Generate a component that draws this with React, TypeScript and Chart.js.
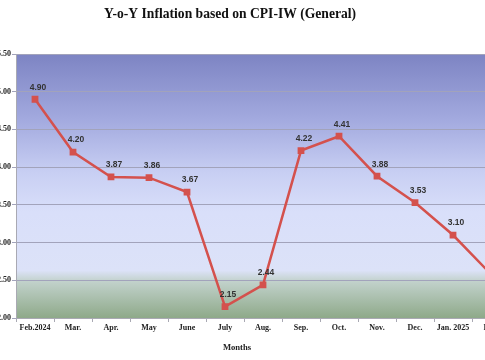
import React, { useEffect, useRef } from "react";
import { Chart, registerables } from "chart.js";

Chart.register(...registerables);

const months = [
  "Feb.2024", "Mar.", "Apr.", "May", "June", "July", "Aug.",
  "Sep.", "Oct.", "Nov.", "Dec.", "Jan. 2025", "Feb.",
];
const inflation = [4.9, 4.2, 3.87, 3.86, 3.67, 2.15, 2.44, 4.22, 4.41, 3.88, 3.53, 3.1, 2.58];
const yMin = 2.0;
const yMax = 5.5;
const yStep = 0.5;
const titleText = "Y-o-Y Inflation based on CPI-IW (General)";
const xAxisTitle = "Months";

const plotBg = {
  id: "plotBg",
  beforeDraw(chart: any) {
    const { ctx, chartArea: a } = chart;
    const g = ctx.createLinearGradient(0, a.top, 0, a.bottom);
    g.addColorStop(0, "#7d84c3");
    g.addColorStop(0.25, "#a3aadf");
    g.addColorStop(0.45, "#c8cff3");
    g.addColorStop(0.6, "#d9dffa");
    g.addColorStop(0.82, "#dce2f8");
    g.addColorStop(0.86, "#c2d2cc");
    g.addColorStop(1, "#8ea989");
    ctx.save();
    ctx.fillStyle = g;
    ctx.fillRect(a.left, a.top, a.right - a.left, a.bottom - a.top);
    ctx.restore();
  },
};

const texts = {
  id: "texts",
  afterDraw(chart: any) {
    const { ctx, chartArea: a } = chart;
    ctx.save();
    ctx.fillStyle = "#111";
    ctx.textAlign = "center";
    ctx.textBaseline = "middle";
    ctx.font = 'bold 13.6px "Liberation Serif", "Times New Roman", serif';
    ctx.fillText(titleText, a.left + 214, 14);
    ctx.font = 'bold 8.6px "Liberation Serif", "Times New Roman", serif';
    ctx.fillStyle = "#222";
    ctx.fillText(xAxisTitle, a.left + 221, 348);
    ctx.restore();
  },
};

const valueLabels = {
  id: "valueLabels",
  afterDatasetsDraw(chart: any) {
    const { ctx } = chart;
    const meta = chart.getDatasetMeta(0);
    const data = chart.data.datasets[0].data as number[];
    ctx.save();
    ctx.font = 'bold 8.5px "Liberation Sans", Arial, sans-serif';
    ctx.fillStyle = "#333";
    ctx.textAlign = "center";
    ctx.textBaseline = "middle";
    meta.data.forEach((p: any, i: number) => {
      ctx.fillText(data[i].toFixed(2), p.x + 3, p.y - 12);
    });
    ctx.restore();
  },
};

export default function App() {
  const ref = useRef<HTMLCanvasElement>(null);
  useEffect(() => {
    if (!ref.current) return;
    const chart = new Chart(ref.current, {
      type: "line",
      data: {
        labels: months,
        datasets: [
          {
            data: inflation,
            borderColor: "#d4514d",
            backgroundColor: "#d4514d",
            borderWidth: 2.5,
            pointStyle: "rect",
            pointRadius: 4.8,
            pointBorderWidth: 0,
            tension: 0,
          },
        ],
      },
      options: {
        animation: false,
        responsive: false,
        layout: { padding: { left: 0, right: 30, top: 54, bottom: 0 }, autoPadding: false },
        plugins: { legend: { display: false }, tooltip: { enabled: false }, title: { display: false } },
        scales: {
          x: {
            type: "category",
            offset: true,
            afterFit(scale: any) { scale.height = 42; },
            border: { display: true, color: "#a9a9b3", width: 1 },
            grid: { offset: true, drawOnChartArea: false, drawTicks: true, tickLength: 4, color: "#a9a9b3" },
            ticks: {
              maxRotation: 0,
              autoSkip: false,
              padding: 1,
              color: "#222",
              font: { family: '"Liberation Serif", "Times New Roman", serif', size: 8, weight: "bold" },
            },
          },
          y: {
            min: yMin,
            max: yMax,
            afterFit(scale: any) { scale.width = 46; },
            border: { display: true, color: "#a9a9b3", width: 1 },
            grid: { color: "#a2a3bb", lineWidth: 1, tickLength: 4, drawTicks: true },
            ticks: {
              stepSize: yStep,
              padding: 1,
              color: "#222",
              font: { family: '"Liberation Serif", "Times New Roman", serif', size: 8, weight: "bold" },
              callback: (v: any) => Number(v).toFixed(2),
            },
          },
        },
      },
      plugins: [plotBg, texts, valueLabels],
    });
    return () => chart.destroy();
  }, []);
  return (
    <div style={{ position: "fixed", left: 0, top: 0, width: 485, height: 360, overflow: "hidden", background: "#fff" }}>
      <canvas ref={ref} width={570} height={360} style={{ position: "absolute", left: -30, top: 0, width: 570, height: 360 }} />
    </div>
  );
}
